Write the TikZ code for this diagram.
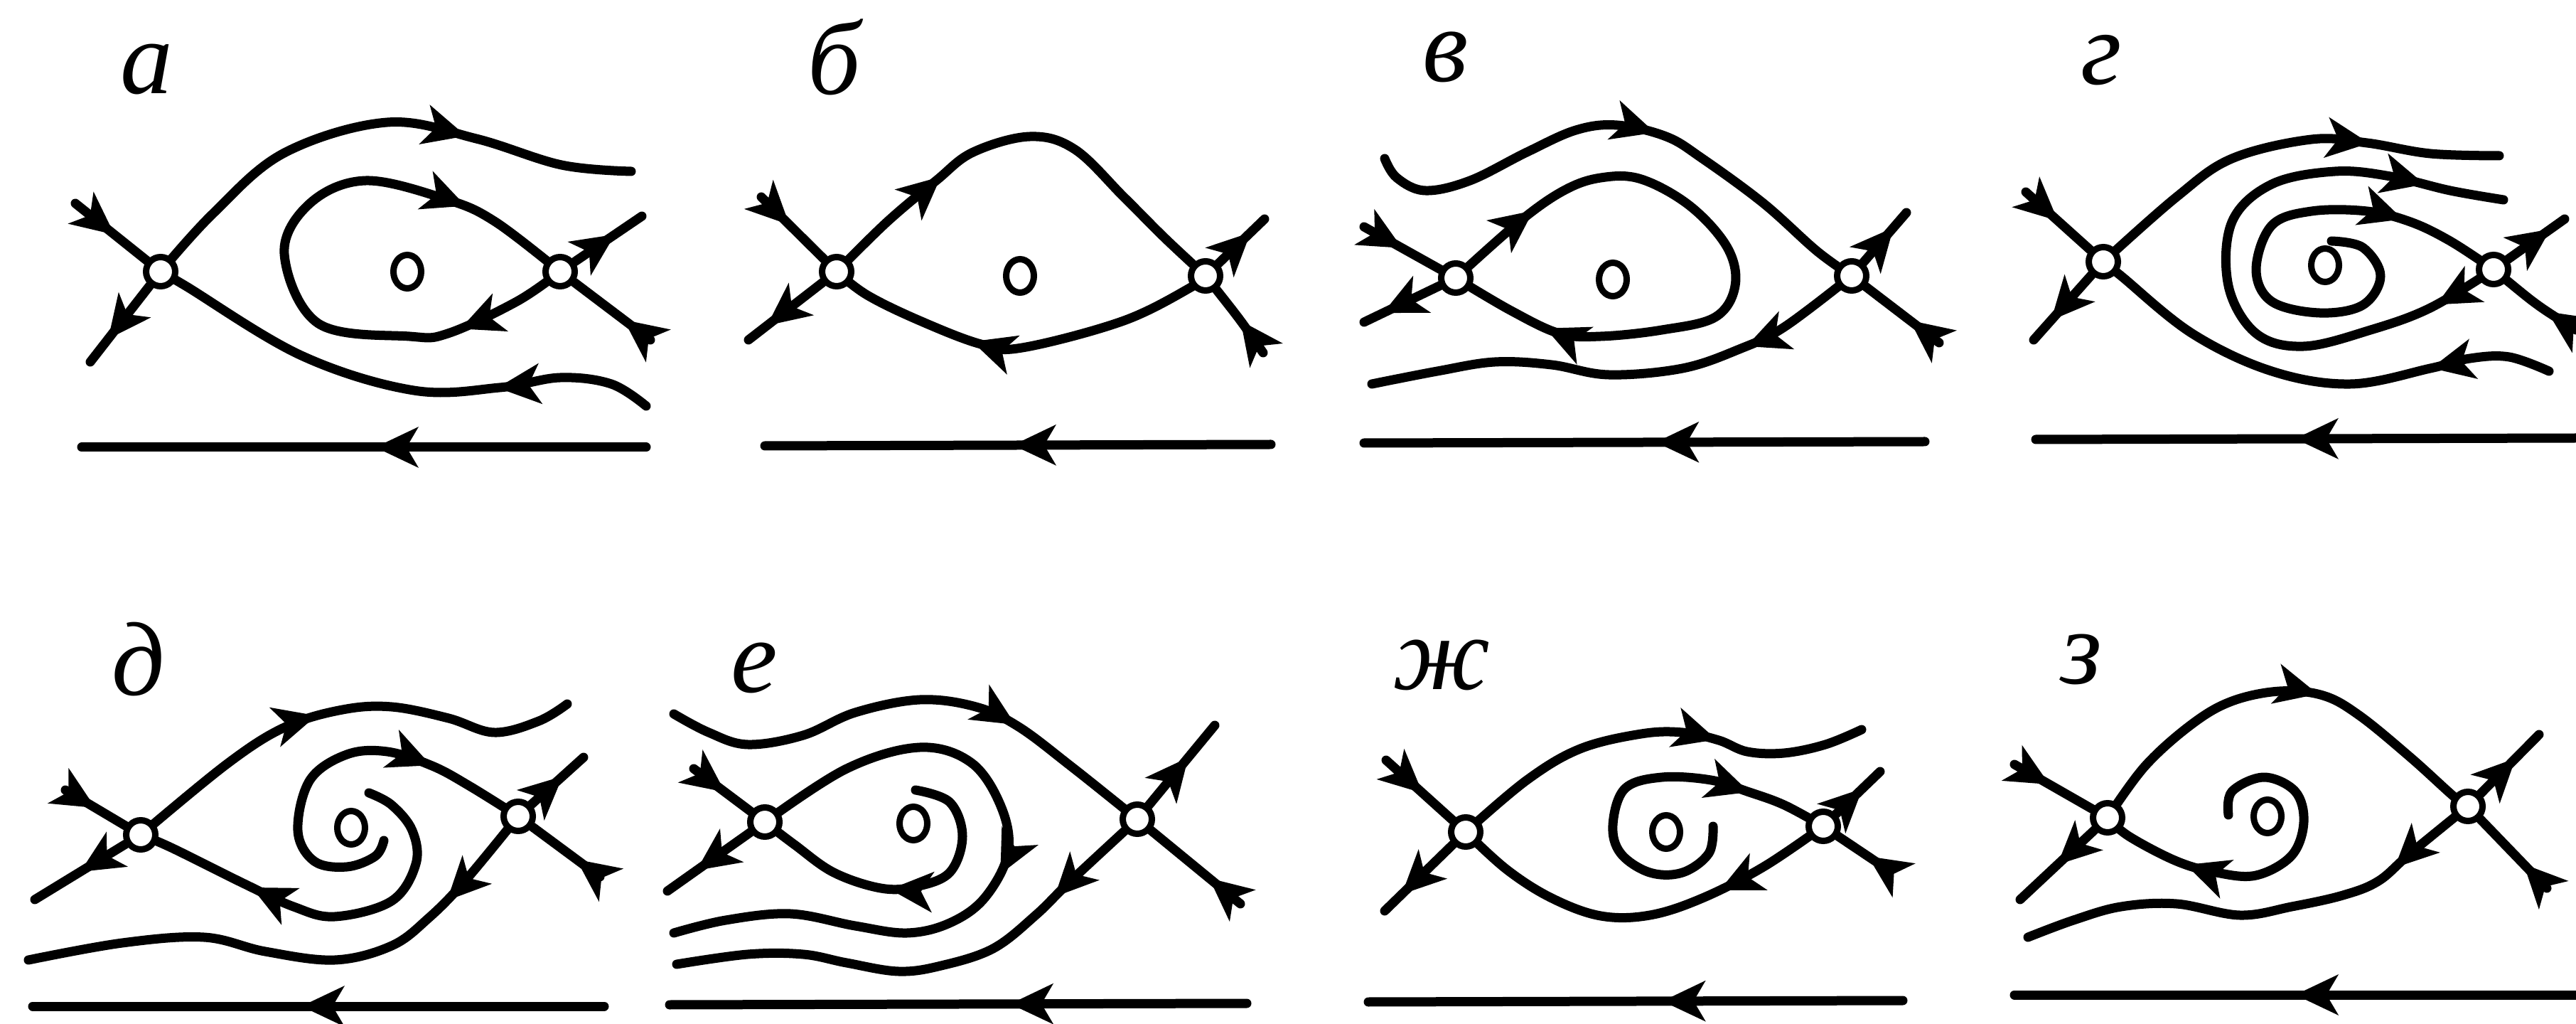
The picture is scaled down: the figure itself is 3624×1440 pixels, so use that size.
\documentclass[tikz,border=0pt]{standalone}
\usepackage{fontspec}
\setmainfont{Liberation Serif}
\usepackage{tikz}
\usetikzlibrary{arrows.meta, decorations.markings, shapes.geometric}
\pgfdeclarelayer{fond}
\pgfsetlayers{fond,main}
\tikzset{
  pointe/.tip={Stealth[length=6mm,width=5.6mm,inset=1.6mm]},
  ligne/.style={line width=1.3mm, line cap=round, line join=round},
  courbe/.style={ligne, smooth, tension=0.6},
  fleche/.style={decoration={markings, mark=at position #1 with {\arrow{pointe}}}, postaction={decorate}},
  deuxfleches/.style 2 args={decoration={markings,
      mark=at position #1 with {\arrow{pointe}},
      mark=at position #2 with {\arrow{pointe}}}, postaction={decorate}},
  col/.style={circle, draw, fill=white, line width=0.9mm, minimum size=4.1mm, inner sep=0pt},
  foyer/.style={ellipse, draw, fill=white, line width=0.9mm, minimum width=3.9mm, minimum height=4.7mm, inner sep=0pt},
  lettre/.style={font=\fontsize{42}{42}\selectfont\itshape, inner sep=0pt},
}

\begin{document}
\begin{tikzpicture}[x=0.1mm, y=-0.1mm]
  \useasboundingbox (0,0) rectangle (3624,1440);

  % points singuliers
  \node[col] (aL) at (226,382) {};   \node[foyer] (aC) at (573,382) {};   \node[col] (aR) at (788,382) {};
  \node[col] (bL) at (1177,382) {};  \node[foyer] (bC) at (1435,388) {};  \node[col] (bR) at (1696,388) {};
  \node[col] (vL) at (2048,391) {};  \node[foyer] (vC) at (2269,393) {};  \node[col] (vR) at (2605,388) {};
  \node[col] (gL) at (2959,368) {};  \node[foyer] (gC) at (3271,373) {};  \node[col] (gR) at (3508,379) {};
  \node[col] (dL) at (198,1174) {};  \node[foyer] (dC) at (494,1164) {};  \node[col] (dR) at (729,1148) {};
  \node[col] (eL) at (1076,1156) {}; \node[foyer] (eC) at (1285,1158) {}; \node[col] (eR) at (1600,1152) {};
  \node[col] (zhL) at (2062,1170) {};\node[foyer] (zhC) at (2344,1170) {};\node[col] (zhR) at (2565,1162) {};
  \node[col] (zL) at (2965,1150) {}; \node[foyer] (zC) at (3190,1148) {}; \node[col] (zR) at (3472,1134) {};

  % lettres
  \node[lettre] (la) at (206,98) {а};
  \node[lettre] (lb) at (1174,80) {б};
  \node[lettre] (lv) at (2034,80) {в};
  \node[lettre] (lg) at (2956,85) {г};
  \node[lettre] (ld) at (195,927) {д};
  \node[lettre] (le) at (1061,939) {е};
  \node[lettre] (lzh) at (2028,935) {ж};
  \node[lettre] (lz) at (2928,927) {з};

  \begin{pgfonlayer}{fond}
  % а : boucle homocline du col droit
  \draw[ligne, fleche=0.55] (106,286) -- (aL);
  \draw[ligne, fleche=0.7] (aL) -- (127,509);
  \draw[courbe, fleche=0.68] plot coordinates {(aL) (300,300) (400,215) (545,172) (670,195) (790,232) (888,241)};
  \draw[courbe, fleche=0.3] plot coordinates {(909,571) (860,540) (788,531) (703,545) (582,549) (424,500) (261,402) (aL)};
  \draw[courbe, deuxfleches={0.17}{0.83}] plot coordinates {(aR) (727,424) (630,469) (576,473) (448,455) (400,357) (436,286) (515,254) (630,281) (697,312) (aR)};
  \draw[ligne, fleche=0.6] (aR) -- (903,304);
  \draw[ligne, fleche=0.35] (915,478) -- (aR);
  \draw[ligne, fleche=0.48] (909,629) -- (115,629);

  % б : deux liaisons entre les cols
  \draw[ligne, fleche=0.45] (1071,277) -- (bL);
  \draw[ligne, fleche=0.75] (bL) -- (1053,478);
  \draw[courbe, fleche=0.3] plot coordinates {(bL) (1248,312) (1317,254) (1369,214) (1449,192) (1512,210) (1581,277) (1639,335) (bR)};
  \draw[courbe, fleche=0.62] plot coordinates {(bR) (1679,402) (1581,451) (1438,489) (1380,484) (1294,451) (1220,415) (bL)};
  \draw[ligne, fleche=0.7] (bR) -- (1779,308);
  \draw[ligne, fleche=0.5] (1777,496) .. controls (1745,450) .. (bR);
  \draw[ligne, fleche=0.51] (1788,625) -- (1076,627);

  % в : boucle du col gauche
  \draw[ligne, fleche=0.5] (1919,319) -- (vL);
  \draw[ligne, fleche=0.75] (vL) -- (1919,453);
  \draw[courbe, deuxfleches={0.15}{0.85}] plot coordinates {(vL) (2137,312) (2200,268) (2252,250) (2309,252) (2378,290) (2430,348) (2441,402) (2413,446) (2338,464) (2252,473) (2194,469) (2126,437) (vL)};
  \draw[courbe, fleche=0.55] plot coordinates {(1948,223) (1965,250) (2005,268) (2068,254) (2148,214) (2217,183) (2275,176) (2344,192) (2395,223) (2481,286) (2556,353) (vR)};
  \draw[courbe, fleche=0.25] plot coordinates {(vR) (2510,460) (2447,491) (2367,518) (2263,527) (2183,513) (2103,509) (2022,522) (1930,540)};
  \draw[ligne, fleche=0.7] (vR) -- (2682,299);
  \draw[ligne, fleche=0.4] (2728,482) -- (vR);
  \draw[ligne, fleche=0.48] (2708,621) -- (1919,623);

  % г : foyer instable
  \draw[ligne, fleche=0.5] (2850,270) -- (gL);
  \draw[ligne, fleche=0.7] (gL) -- (2861,478);
  \draw[courbe, fleche=0.7] plot coordinates {(gL) (3062,277) (3140,223) (3252,196) (3330,201) (3419,216) (3516,219)};
  \draw[courbe, fleche=0.25] plot coordinates {(3586,522) (3530,502) (3475,504) (3419,518) (3307,540) (3196,522) (3084,469) (2984,388) (gL)};
  \draw[courbe, fleche=0.8] plot coordinates {(3280,339) (3324,348) (3349,388) (3324,429) (3263,440) (3196,424) (3174,379) (3196,317) (3252,297) (3330,297) (3391,312) (3447,339) (gR)};
  \draw[courbe, deuxfleches={0.1}{0.88}] plot coordinates {(gR) (3419,433) (3335,464) (3241,487) (3174,469) (3135,402) (3140,312) (3196,259) (3285,241) (3363,248) (3447,268) (3522,281)};
  \draw[ligne, fleche=0.75] (gR) -- (3608,308);
  \draw[ligne, fleche=0.4] (3624,464) .. controls (3570,430) .. (gR);
  \draw[ligne, fleche=0.52] (3624,616) -- (2864,618);

  % д
  \draw[ligne, fleche=0.5] (92,1111) -- (dL);
  \draw[ligne, fleche=0.5] (dL) -- (49,1265);
  \draw[courbe, fleche=0.45] plot coordinates {(dL) (321,1073) (402,1022) (482,998) (551,994) (631,1010) (695,1030) (758,1014) (798,990)};
  \draw[courbe, fleche=0.7] plot coordinates {(519,1115) (551,1132) (580,1168) (585,1215) (551,1267) (471,1289) (413,1275) (344,1243) (241,1192) (dL)};
  \draw[courbe, fleche=0.75] plot coordinates {(540,1182) (528,1204) (488,1219) (442,1211) (419,1168) (436,1097) (488,1061) (545,1057) (608,1077) (660,1105) (dR)};
  \draw[ligne, fleche=0.6] (dR) -- (821,1065);
  \draw[ligne, fleche=0.35] (844,1233) -- (dR);
  \draw[courbe, fleche=0.2] plot coordinates {(dR) (654,1239) (603,1291) (551,1330) (471,1350) (373,1338) (287,1318) (172,1326) (40,1350)};
  \draw[ligne, fleche=0.53] (850,1415) -- (46,1415);

  % е
  \draw[ligne, fleche=0.55] (976,1081) -- (eL);
  \draw[ligne, fleche=0.65] (eL) -- (939,1253);
  \draw[courbe, fleche=0.7] plot coordinates {(948,1004) (997,1030) (1052,1047) (1130,1034) (1203,1002) (1294,984) (1373,994) (1433,1022) (1506,1077) (1585,1140) (eR)};
  \draw[courbe, fleche=0.5] plot coordinates {(eL) (1191,1081) (1294,1051) (1367,1073) (1409,1136) (1418,1200) (1385,1263) (1336,1298) (1276,1312) (1203,1302) (1112,1285) (1021,1294) (948,1312)};
  \draw[courbe, fleche=0.55] plot coordinates {(1288,1111) (1336,1128) (1354,1176) (1336,1227) (1288,1247) (1239,1249) (1173,1227) (1118,1188) (eL)};
  \draw[ligne, fleche=0.6] (eR) -- (1709,1020);
  \draw[ligne, fleche=0.35] (1745,1271) -- (eR);
  \draw[courbe, fleche=0.22] plot coordinates {(eR) (1506,1239) (1457,1287) (1397,1334) (1324,1358) (1264,1366) (1191,1354) (1130,1342) (1052,1342) (952,1356)};
  \draw[ligne, fleche=0.41] (1754,1411) -- (942,1413);

  % ж
  \draw[ligne, fleche=0.55] (1950,1069) -- (zhL);
  \draw[ligne, fleche=0.75] (zhL) -- (1948,1281);
  \draw[courbe, fleche=0.65] plot coordinates {(zhL) (2148,1097) (2223,1053) (2309,1032) (2367,1030) (2418,1041) (2458,1057) (2510,1059) (2568,1047) (2619,1026)};
  \draw[courbe, fleche=0.3] plot coordinates {(zhR) (2481,1219) (2395,1263) (2321,1287) (2252,1288) (2183,1263) (2120,1223) (zhL)};
  \draw[courbe, fleche=0.8] plot coordinates {(2410,1162) (2404,1200) (2367,1227) (2321,1227) (2280,1200) (2269,1160) (2286,1109) (2338,1093) (2407,1097) (2458,1113) (2510,1132) (zhR)};
  \draw[ligne, fleche=0.6] (zhR) -- (2645,1085);
  \draw[ligne, fleche=0.4] (2656,1223) -- (zhR);
  \draw[ligne, fleche=0.45] (2677,1407) -- (1925,1409);

  % з
  \draw[ligne, fleche=0.45] (2834,1075) -- (zL);
  \draw[ligne, fleche=0.5] (zL) -- (2842,1265);
  \draw[courbe, fleche=0.58] plot coordinates {(zL) (3018,1077) (3084,1018) (3140,986) (3207,972) (3268,978) (3319,1006) (3391,1065) (3452,1120) (zR)};
  \draw[courbe, fleche=0.75] plot coordinates {(3135,1146) (3140,1113) (3185,1093) (3229,1113) (3241,1156) (3224,1203) (3174,1231) (3118,1227) (3062,1211) (2995,1176) (zL)};
  \draw[courbe, fleche=0.2] plot coordinates {(zR) (3391,1200) (3346,1239) (3296,1259) (3224,1275) (3151,1287) (3062,1271) (2984,1275) (2917,1294) (2853,1318)};
  \draw[ligne, fleche=0.6] (zR) -- (3572,1033);
  \draw[ligne, fleche=0.35] (3583,1249) -- (zR);
  \draw[ligne, fleche=0.5] (3624,1399) -- (2834,1399);
  \end{pgfonlayer}
\end{tikzpicture}
\end{document}
